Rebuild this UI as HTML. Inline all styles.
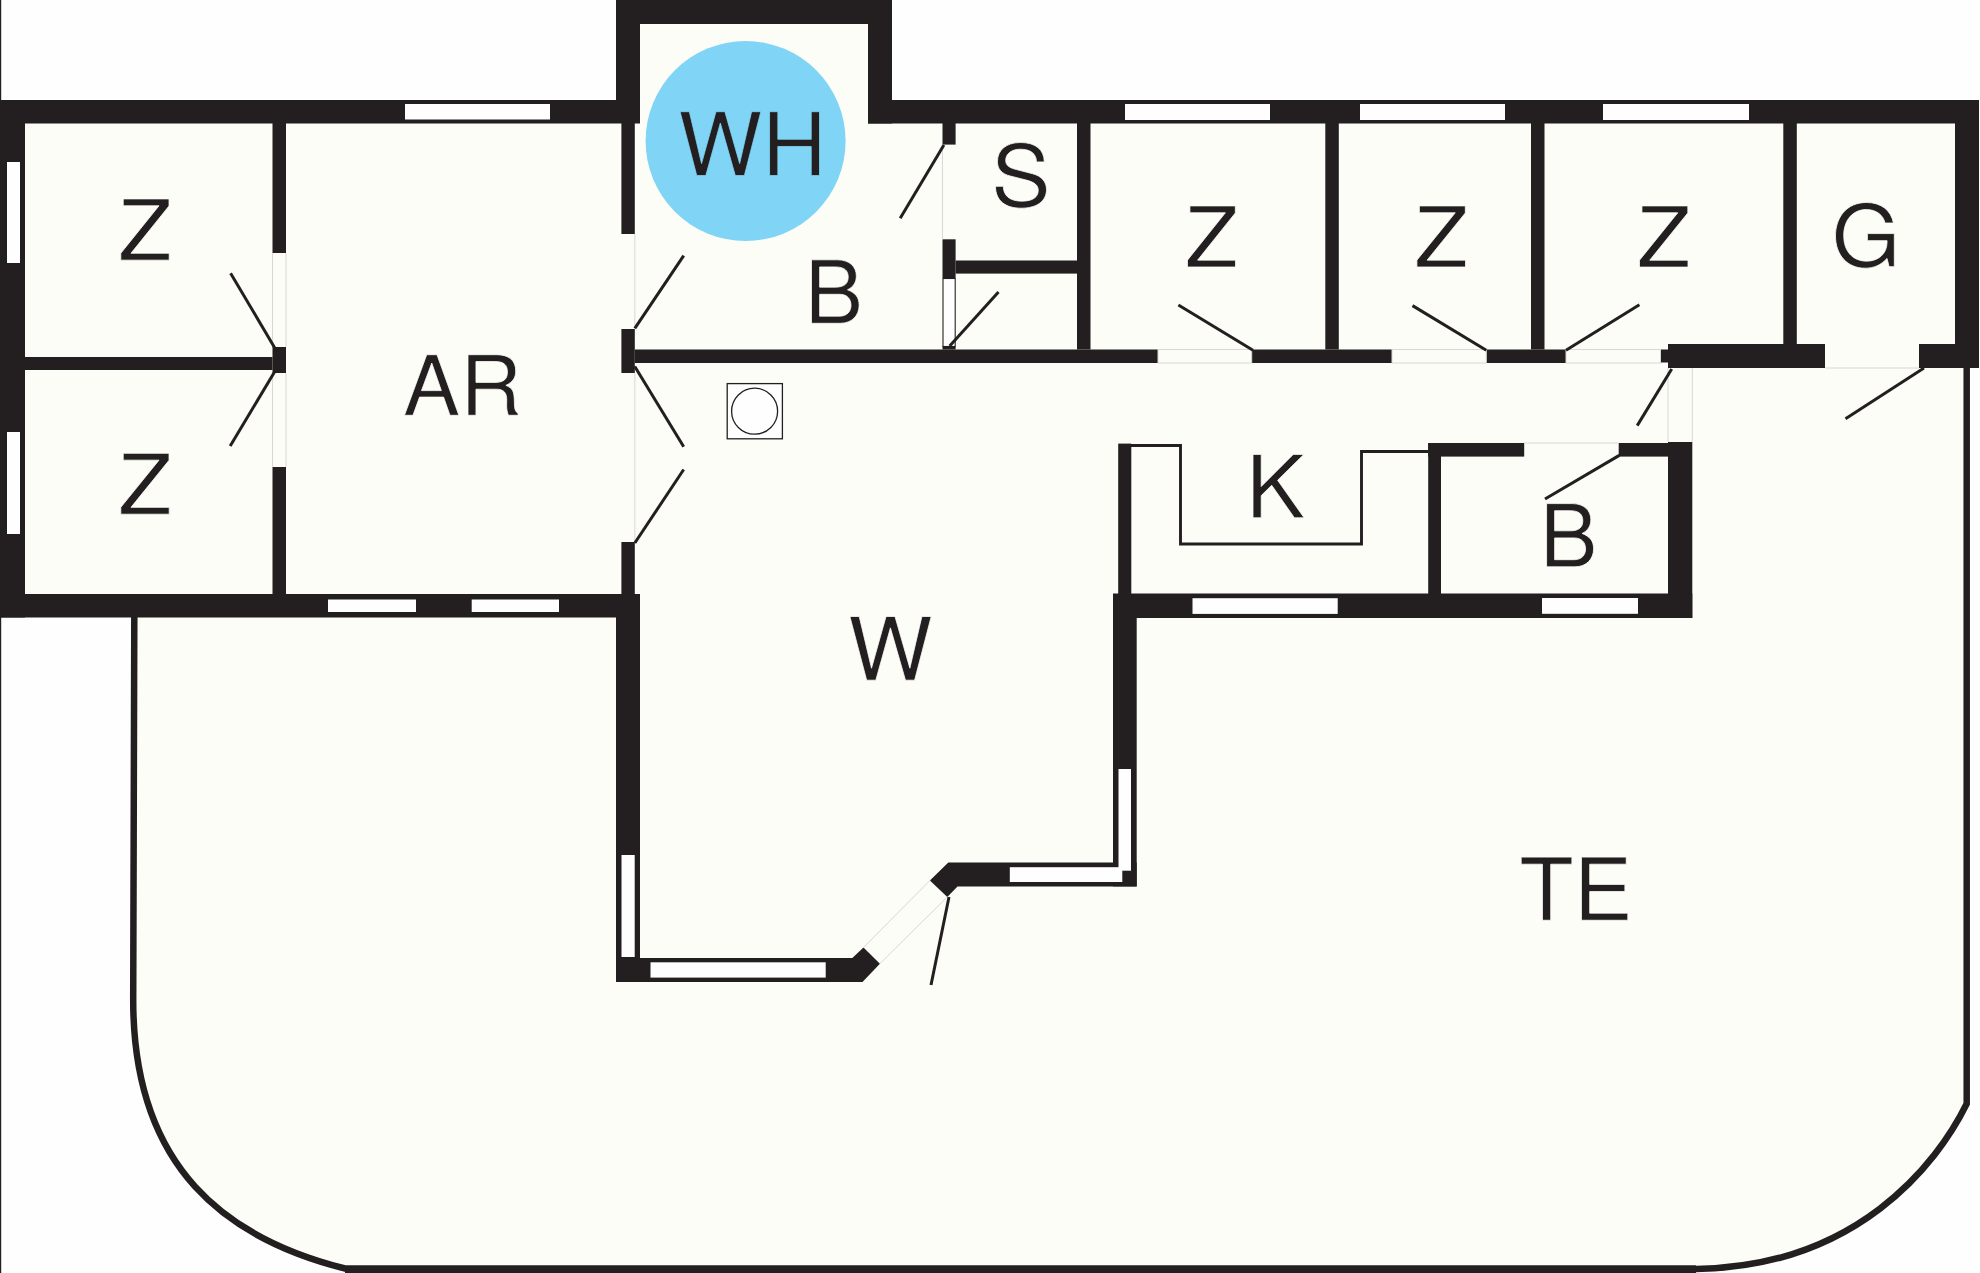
<!DOCTYPE html>
<html><head><meta charset="utf-8"><style>
html,body{margin:0;padding:0;font-family:"Liberation Sans",sans-serif;background:#fefefe;overflow:hidden;}
svg{display:block;}
</style></head><body>
<svg width="1980" height="1273" viewBox="0 0 1980 1273">
<rect x="0" y="0" width="1980" height="1273" fill="#fefefe"/>
<path d="M0,100 H616 V0 H892 V100 H1979 V368 H1967 L1966.7,1103.8 C1936.60,1164.96 1855.98,1266.92 1696,1269 L345,1269 L345,1268.5 C227.04,1238.83 133.2,1168.70 133.2,1000 L134.3,617 H0 Z" fill="#fdfdf7"/>
<path d="M134.3,617 L133.2,1000 C133.2,1168.70 227.04,1238.83 345,1268.5 L1696,1268.5 " fill="none" stroke="#231f20" stroke-width="6.5"/>
<path d="M1696,1269 C1855.98,1266.92 1936.60,1164.96 1966.7,1103.8 L1966.7,368" fill="none" stroke="#231f20" stroke-width="6.5"/>
<rect x="345.00" y="1266.00" width="1351.00" height="8.00" fill="#231f20"/>
<rect x="0.00" y="0.00" width="1.20" height="1273.00" fill="#231f20"/>
<circle cx="745.6" cy="141" r="100" fill="#80d4f5"/>
<rect x="0.00" y="100.00" width="616.00" height="23.50" fill="#231f20"/>
<rect x="868.00" y="100.00" width="1111.00" height="23.50" fill="#231f20"/>
<rect x="616.00" y="0.00" width="276.00" height="24.00" fill="#231f20"/>
<rect x="616.00" y="0.00" width="24.00" height="123.50" fill="#231f20"/>
<rect x="868.00" y="0.00" width="24.00" height="123.50" fill="#231f20"/>
<rect x="0.00" y="100.00" width="25.00" height="517.50" fill="#231f20"/>
<rect x="0.00" y="594.00" width="640.00" height="23.50" fill="#231f20"/>
<rect x="1955.00" y="100.00" width="24.00" height="268.00" fill="#231f20"/>
<rect x="405.00" y="104.00" width="145.00" height="15.50" fill="#fefefe"/>
<rect x="1125.00" y="104.00" width="145.00" height="16.00" fill="#fefefe"/>
<rect x="1360.00" y="104.00" width="145.00" height="16.00" fill="#fefefe"/>
<rect x="1603.00" y="104.00" width="146.00" height="16.00" fill="#fefefe"/>
<rect x="7.00" y="162.00" width="13.00" height="101.00" fill="#fefefe"/>
<rect x="7.00" y="432.00" width="13.00" height="102.00" fill="#fefefe"/>
<rect x="328.00" y="599.50" width="88.00" height="12.50" fill="#fefefe"/>
<rect x="471.70" y="599.50" width="87.30" height="12.50" fill="#fefefe"/>
<rect x="272.50" y="123.00" width="13.50" height="130.00" fill="#231f20"/>
<rect x="272.50" y="347.00" width="13.50" height="26.00" fill="#231f20"/>
<rect x="272.50" y="467.00" width="13.50" height="127.00" fill="#231f20"/>
<rect x="25.00" y="357.00" width="247.50" height="13.00" fill="#231f20"/>
<rect x="621.40" y="123.00" width="13.40" height="111.00" fill="#231f20"/>
<rect x="621.40" y="329.00" width="13.40" height="44.00" fill="#231f20"/>
<rect x="621.40" y="542.00" width="13.40" height="52.00" fill="#231f20"/>
<rect x="616.00" y="594.00" width="24.00" height="388.00" fill="#231f20"/>
<rect x="621.50" y="855.00" width="13.20" height="102.00" fill="#fefefe"/>
<rect x="616.00" y="958.00" width="237.00" height="24.00" fill="#231f20"/>
<polygon points="852.30,958.00 863.50,947.40 879.90,963.70 862.50,982.00 852.30,982.00" fill="#231f20"/>
<rect x="650.50" y="962.30" width="175.20" height="15.30" fill="#fefefe"/>
<polygon points="929.90,880.50 948.30,862.60 1136.70,862.60 1136.70,886.40 957.50,886.40 947.30,896.90" fill="#231f20"/>
<rect x="1113.00" y="594.00" width="23.70" height="292.40" fill="#231f20"/>
<rect x="1118.50" y="769.00" width="12.50" height="101.70" fill="#fefefe"/>
<rect x="1009.80" y="867.20" width="112.50" height="14.80" fill="#fefefe"/>
<rect x="634.80" y="349.50" width="523.20" height="13.50" fill="#231f20"/>
<rect x="1251.70" y="349.50" width="140.30" height="13.50" fill="#231f20"/>
<rect x="1486.30" y="349.50" width="79.70" height="13.50" fill="#231f20"/>
<rect x="1660.50" y="349.50" width="7.50" height="13.00" fill="#231f20"/>
<rect x="1668.00" y="344.00" width="157.00" height="24.00" fill="#231f20"/>
<rect x="1919.00" y="344.00" width="60.00" height="24.00" fill="#231f20"/>
<rect x="942.50" y="123.00" width="13.10" height="21.60" fill="#231f20"/>
<rect x="942.50" y="239.30" width="13.10" height="38.90" fill="#231f20"/>
<rect x="955.60" y="260.50" width="121.40" height="13.10" fill="#231f20"/>
<rect x="942.50" y="346.00" width="13.10" height="3.50" fill="#231f20"/>
<rect x="943" y="278.5" width="12.2" height="68" fill="#fefefe" stroke="#231f20" stroke-width="1.1"/>
<rect x="1077.00" y="123.00" width="13.50" height="226.50" fill="#231f20"/>
<rect x="1325.30" y="123.00" width="13.50" height="226.50" fill="#231f20"/>
<rect x="1531.00" y="123.00" width="13.50" height="226.50" fill="#231f20"/>
<rect x="1783.30" y="123.00" width="13.50" height="226.50" fill="#231f20"/>
<rect x="1118.20" y="443.60" width="13.10" height="150.40" fill="#231f20"/>
<rect x="1428.20" y="443.00" width="12.80" height="151.00" fill="#231f20"/>
<rect x="1428.20" y="443.00" width="96.00" height="13.60" fill="#231f20"/>
<rect x="1618.70" y="443.00" width="49.30" height="13.60" fill="#231f20"/>
<rect x="1668.00" y="442.00" width="24.30" height="176.00" fill="#231f20"/>
<rect x="1113.00" y="593.50" width="579.30" height="24.50" fill="#231f20"/>
<rect x="1192.50" y="598.20" width="145.20" height="15.70" fill="#fefefe"/>
<rect x="1542.00" y="598.00" width="96.00" height="15.80" fill="#fefefe"/>
<path d="M1131,445.5 H1180.5 V544 H1361.5 V451.5 H1428.2" fill="none" stroke="#231f20" stroke-width="2.9"/>
<rect x="727.2" y="383.6" width="55.2" height="55.2" fill="#fefefe" stroke="#231f20" stroke-width="1.3"/>
<circle cx="754.6" cy="411.2" r="23" fill="none" stroke="#231f20" stroke-width="1.3"/>
<line x1="272.50" y1="253.00" x2="272.50" y2="347.00" stroke="#d8d8d4" stroke-width="1.0"/>
<line x1="286.00" y1="253.00" x2="286.00" y2="347.00" stroke="#d8d8d4" stroke-width="1.0"/>
<line x1="272.50" y1="373.00" x2="272.50" y2="467.00" stroke="#d8d8d4" stroke-width="1.0"/>
<line x1="286.00" y1="373.00" x2="286.00" y2="467.00" stroke="#d8d8d4" stroke-width="1.0"/>
<line x1="634.80" y1="234.00" x2="634.80" y2="329.00" stroke="#d8d8d4" stroke-width="1.0"/>
<line x1="634.80" y1="373.00" x2="634.80" y2="542.00" stroke="#d8d8d4" stroke-width="1.0"/>
<line x1="942.50" y1="144.60" x2="942.50" y2="239.30" stroke="#d8d8d4" stroke-width="1.0"/>
<rect x="1158" y="349.5" width="93.70000000000005" height="13.5" fill="none" stroke="#d8d8d4" stroke-width="1"/>
<rect x="1392" y="349.5" width="94.29999999999995" height="13.5" fill="none" stroke="#d8d8d4" stroke-width="1"/>
<rect x="1566" y="349.5" width="94.5" height="13.5" fill="none" stroke="#d8d8d4" stroke-width="1"/>
<line x1="1825.00" y1="368.00" x2="1919.00" y2="368.00" stroke="#d8d8d4" stroke-width="1.0"/>
<line x1="1668.00" y1="368.00" x2="1668.00" y2="442.00" stroke="#d8d8d4" stroke-width="1.0"/>
<line x1="1692.30" y1="368.00" x2="1692.30" y2="442.00" stroke="#d8d8d4" stroke-width="1.0"/>
<line x1="1524.20" y1="443.00" x2="1618.70" y2="443.00" stroke="#d8d8d4" stroke-width="1.0"/>
<line x1="863.50" y1="947.40" x2="929.90" y2="880.50" stroke="#d8d8d4" stroke-width="1.0"/>
<line x1="879.90" y1="963.70" x2="947.30" y2="896.90" stroke="#d8d8d4" stroke-width="1.0"/>
<line x1="230.60" y1="273.20" x2="274.80" y2="347.90" stroke="#231f20" stroke-width="3.0"/>
<line x1="274.80" y1="371.50" x2="230.20" y2="446.10" stroke="#231f20" stroke-width="3.0"/>
<line x1="634.80" y1="328.30" x2="683.70" y2="255.60" stroke="#231f20" stroke-width="3.0"/>
<line x1="634.80" y1="366.50" x2="683.70" y2="446.70" stroke="#231f20" stroke-width="3.0"/>
<line x1="683.70" y1="469.50" x2="634.80" y2="543.00" stroke="#231f20" stroke-width="3.0"/>
<line x1="943.90" y1="145.10" x2="900.20" y2="218.20" stroke="#231f20" stroke-width="3.0"/>
<line x1="949.70" y1="346.00" x2="998.50" y2="291.90" stroke="#231f20" stroke-width="3.0"/>
<line x1="1178.40" y1="305.00" x2="1253.00" y2="350.20" stroke="#231f20" stroke-width="3.0"/>
<line x1="1412.50" y1="305.60" x2="1486.30" y2="350.20" stroke="#231f20" stroke-width="3.0"/>
<line x1="1639.40" y1="304.70" x2="1566.00" y2="350.20" stroke="#231f20" stroke-width="3.0"/>
<line x1="1671.70" y1="369.00" x2="1637.20" y2="425.60" stroke="#231f20" stroke-width="3.0"/>
<line x1="1924.00" y1="368.00" x2="1845.50" y2="418.70" stroke="#231f20" stroke-width="3.0"/>
<line x1="1619.30" y1="455.40" x2="1545.00" y2="499.00" stroke="#231f20" stroke-width="3.0"/>
<line x1="949.00" y1="897.00" x2="931.00" y2="985.00" stroke="#231f20" stroke-width="3.0"/>
<path transform="matrix(0.087207,0,0,-0.084019,118.358,260.150)" d="M583 0V82H145L581 645V729H56V647H466L28 82V0Z" fill="#231f20" stroke="#fdfdf7" stroke-width="9.34" stroke-linejoin="miter"/>
<path transform="matrix(0.087207,0,0,-0.083539,118.358,514.200)" d="M583 0V82H145L581 645V729H56V647H466L28 82V0Z" fill="#231f20" stroke="#fdfdf7" stroke-width="9.37" stroke-linejoin="miter"/>
<path transform="matrix(0.085478,0,0,-0.083128,403.047,415.300)" d="M653 0 397 729H277L17 0H116L193 219H474L549 0ZM448 297H216L336 629ZM1346 0V23C1311 47 1303 73 1302 170C1300 290 1282 326 1203 360C1285 400 1318 451 1318 534C1318 660 1239 729 1096 729H760V0H853V314H1093C1175 314 1214 274 1213 184L1212 119C1211 74 1220 30 1233 0ZM1221 521C1221 435 1177 396 1078 396H853V647H1078C1182 647 1221 603 1221 521Z" fill="#231f20" stroke="#fdfdf7" stroke-width="9.49" stroke-linejoin="miter"/>
<path transform="matrix(0.089017,0,0,-0.087586,678.142,175.550)" d="M929 729H825L691 137L525 729H425L263 137L126 729H22L209 0H311L474 599L642 0H744ZM1588 0V729H1495V414H1120V729H1027V0H1120V332H1495V0Z" fill="#231f20" stroke="#80d4f5" stroke-width="9.06" stroke-linejoin="miter"/>
<path transform="matrix(0.087592,0,0,-0.087106,804.580,323.300)" d="M623 208C623 296 583 349 490 385C556 416 591 470 591 544C591 650 513 729 375 729H79V0H408C539 0 623 88 623 208ZM498 531C498 457 455 415 352 415H172V647H352C455 647 498 605 498 531ZM530 207C530 137 487 82 399 82H172V333H399C487 333 530 278 530 207Z" fill="#231f20" stroke="#fdfdf7" stroke-width="9.16" stroke-linejoin="miter"/>
<path transform="matrix(0.089005,0,0,-0.085882,991.228,206.654)" d="M621 200C621 290 565 356 466 383L283 432C195 455 163 484 163 540C163 614 228 669 326 669C442 669 508 616 508 521H596C596 664 497 747 329 747C169 747 70 659 70 527C70 438 117 382 213 357L394 309C486 285 528 248 528 191C528 111 468 64 342 64C204 64 136 133 136 237H48C48 65 164 -18 336 -18C521 -18 621 70 621 200Z" fill="#231f20" stroke="#fdfdf7" stroke-width="9.15" stroke-linejoin="miter"/>
<path transform="matrix(0.086486,0,0,-0.083813,1185.078,267.000)" d="M583 0V82H145L581 645V729H56V647H466L28 82V0Z" fill="#231f20" stroke="#fdfdf7" stroke-width="9.40" stroke-linejoin="miter"/>
<path transform="matrix(0.087568,0,0,-0.083813,1414.448,267.000)" d="M583 0V82H145L581 645V729H56V647H466L28 82V0Z" fill="#231f20" stroke="#fdfdf7" stroke-width="9.34" stroke-linejoin="miter"/>
<path transform="matrix(0.087387,0,0,-0.083951,1637.053,267.100)" d="M583 0V82H145L581 645V729H56V647H466L28 82V0Z" fill="#231f20" stroke="#fdfdf7" stroke-width="9.34" stroke-linejoin="miter"/>
<path transform="matrix(0.088421,0,0,-0.085882,1831.609,266.654)" d="M709 0V385H405V303H627V283C627 153 531 64 398 64C233 64 137 184 137 362C137 541 239 665 393 665C504 665 584 602 604 508H699C673 656 561 747 394 747C171 747 44 575 44 357C44 133 181 -18 378 -18C477 -18 556 17 627 96L650 0Z" fill="#231f20" stroke="#fdfdf7" stroke-width="9.18" stroke-linejoin="miter"/>
<path transform="matrix(0.088256,0,0,-0.086968,1246.028,517.800)" d="M658 0 358 432 655 729H535L172 360V729H79V0H172V255L291 374L548 0Z" fill="#231f20" stroke="#fdfdf7" stroke-width="9.13" stroke-linejoin="miter"/>
<path transform="matrix(0.086397,0,0,-0.086694,1539.775,566.800)" d="M623 208C623 296 583 349 490 385C556 416 591 470 591 544C591 650 513 729 375 729H79V0H408C539 0 623 88 623 208ZM498 531C498 457 455 415 352 415H172V647H352C455 647 498 605 498 531ZM530 207C530 137 487 82 399 82H172V333H399C487 333 530 278 530 207Z" fill="#231f20" stroke="#fdfdf7" stroke-width="9.24" stroke-linejoin="miter"/>
<path transform="matrix(0.089636,0,0,-0.087380,847.928,680.200)" d="M929 729H825L691 137L525 729H425L263 137L126 729H22L209 0H311L474 599L642 0H744Z" fill="#231f20" stroke="#fdfdf7" stroke-width="9.04" stroke-linejoin="miter"/>
<path transform="matrix(0.088612,0,0,-0.086626,1519.339,920.250)" d="M593 647V729H21V647H261V0H354V647ZM1224 0V82H794V332H1191V414H794V647H1206V729H701V0Z" fill="#231f20" stroke="#fdfdf7" stroke-width="9.13" stroke-linejoin="miter"/>
</svg>
</body></html>
